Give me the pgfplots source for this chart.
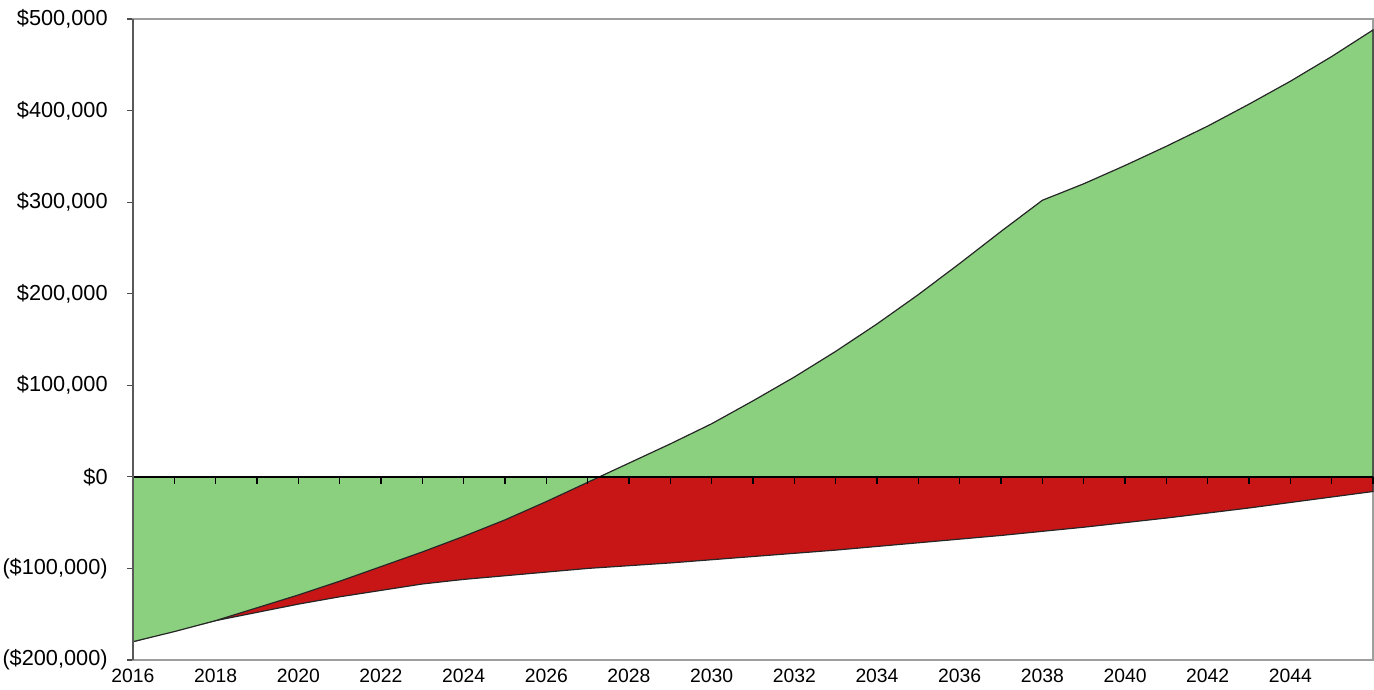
\documentclass[border=0pt]{standalone}
\usepackage{pgfplots}
\pgfplotsset{compat=1.18}
\usepackage{fontspec}
\setmainfont{Liberation Sans}
\definecolor{gfill}{RGB}{139,208,126}
\definecolor{rfill}{RGB}{200,22,22}
\begin{document}
\begin{tikzpicture}
\begin{axis}[
  scale only axis, width=930pt, height=480.75pt,
  xmin=2016, xmax=2046, ymin=-200000, ymax=500000,
  axis line style={draw=black!38, line width=0.9pt},
  xtick={2016,2018,...,2044},
  xticklabels={2016,2018,2020,2022,2024,2026,2028,2030,2032,2034,2036,2038,2040,2042,2044},
  x tick style={draw=none},
  xticklabel style={font=\fontsize{14.5}{17}\selectfont, yshift=1pt},
  ytick={-200000,-100000,...,500000},
  yticklabels={{(\$200,000)},{(\$100,000)},{\$0},{\$100,000},{\$200,000},{\$300,000},{\$400,000},{\$500,000}},
  scaled y ticks=false,
  ytick pos=left, tick align=outside,
  y tick style={draw=black!70, line width=0.8pt},
  major tick length=4.5pt,
  yticklabel style={font=\fontsize{16.3}{19}\selectfont, xshift=-11pt},
  clip=false,
]
\addplot[fill=rfill, draw=black!85, line width=0.9pt] coordinates {
(2016,-180000)(2017,-168000)(2018,-157000)(2019,-148000)(2020,-139000)
(2021,-131000)(2022,-124000)(2023,-117000)(2024,-112000)(2025,-108000)
(2026,-104000)(2027,-100000)(2028,-97000)(2029,-94000)(2030,-90500)
(2031,-87000)(2032,-83500)(2033,-80000)(2034,-76000)(2035,-72000)
(2036,-68000)(2037,-64000)(2038,-59500)(2039,-55000)(2040,-50000)
(2041,-45000)(2042,-39500)(2043,-34000)(2044,-28000)(2045,-22000)
(2046,-16000)} \closedcycle;
\addplot[fill=gfill, draw=black!85, line width=0.9pt] coordinates {
(2016,-180000)(2017,-169000)(2018,-157000)(2019,-143000)(2020,-129000)
(2021,-114000)(2022,-98000)(2023,-82000)(2024,-65000)(2025,-47000)
(2026,-27000)(2027,-6000)(2028,15000)(2029,36000)(2030,58000)
(2031,83000)(2032,109000)(2033,137000)(2034,167000)(2035,199000)
(2036,233000)(2037,268000)(2038,302000)(2039,320000)(2040,340000)
(2041,361000)(2042,383000)(2043,407000)(2044,432000)(2045,459000)
(2046,488000)} \closedcycle;
\coordinate (bl) at (rel axis cs:0,0);
\coordinate (tr) at (rel axis cs:1,1);
\end{axis}
\begin{axis}[
  scale only axis, width=930pt, height=480.75pt,
  xmin=2016, xmax=2046, ymin=-200000, ymax=500000,
  axis x line=middle, axis y line=left,
  x axis line style={-, draw=black, line width=1.1pt},
  y axis line style={-, draw=black!65, line width=1pt},
  xtick={2016,2017,...,2046}, xticklabels={},
  ytick=\empty,
  x tick style={draw=black, line width=1pt},
  tick align=outside, major tick length=5pt,
]
\end{axis}
\pgfresetboundingbox
\path ([shift={(-99.75pt,-22.5pt)}]bl) rectangle ([shift={(0.75pt,14.25pt)}]tr);
\end{tikzpicture}
\end{document}
